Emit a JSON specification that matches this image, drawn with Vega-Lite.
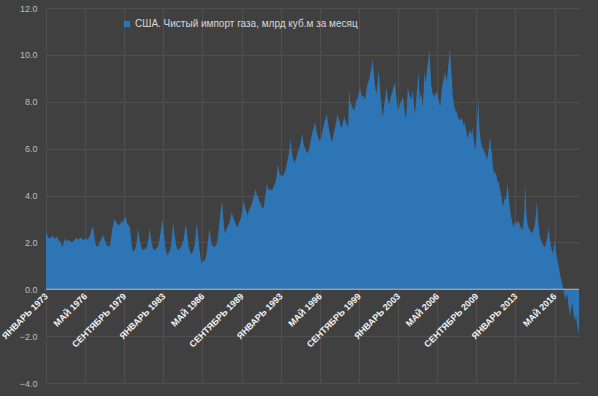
{
"$schema": "https://vega.github.io/schema/vega-lite/v6.json",
"width": 533, "height": 375,
"autosize": {"type": "none"},
"padding": {"left": 46, "top": 8, "right": 19, "bottom": 13},
"background": "#404040",
"config": {"view": {"stroke": null}, "font": "Liberation Sans"},
"data": {"values": [
{"d":"1973-01","v":2.44},{"d":"1973-02","v":2.35},{"d":"1973-03","v":2.25},{"d":"1973-04","v":2.2},{"d":"1973-05","v":2.16},{"d":"1973-06","v":2.2},{"d":"1973-07","v":2.25},{"d":"1973-08","v":2.3},{"d":"1973-09","v":2.2},{"d":"1973-10","v":2.15},{"d":"1973-11","v":2.2},{"d":"1973-12","v":2.25},
{"d":"1974-01","v":2.16},{"d":"1974-02","v":2.1},{"d":"1974-03","v":2.05},{"d":"1974-04","v":2.0},{"d":"1974-05","v":1.9},{"d":"1974-06","v":1.8},{"d":"1974-07","v":1.95},{"d":"1974-08","v":2.1},{"d":"1974-09","v":2.16},{"d":"1974-10","v":2.1},{"d":"1974-11","v":2.05},{"d":"1974-12","v":2.1},
{"d":"1975-01","v":2.1},{"d":"1975-02","v":2.05},{"d":"1975-03","v":2.0},{"d":"1975-04","v":2.02},{"d":"1975-05","v":2.05},{"d":"1975-06","v":2.1},{"d":"1975-07","v":2.15},{"d":"1975-08","v":2.2},{"d":"1975-09","v":2.15},{"d":"1975-10","v":2.1},{"d":"1975-11","v":2.15},{"d":"1975-12","v":2.2},
{"d":"1976-01","v":2.2},{"d":"1976-02","v":2.15},{"d":"1976-03","v":2.1},{"d":"1976-04","v":2.1},{"d":"1976-05","v":2.15},{"d":"1976-06","v":2.2},{"d":"1976-07","v":2.1},{"d":"1976-08","v":2.15},{"d":"1976-09","v":2.2},{"d":"1976-10","v":2.3},{"d":"1976-11","v":2.45},{"d":"1976-12","v":2.6},
{"d":"1977-01","v":2.69},{"d":"1977-02","v":2.4},{"d":"1977-03","v":2.1},{"d":"1977-04","v":1.9},{"d":"1977-05","v":1.85},{"d":"1977-06","v":1.8},{"d":"1977-07","v":1.9},{"d":"1977-08","v":2.0},{"d":"1977-09","v":2.1},{"d":"1977-10","v":2.2},{"d":"1977-11","v":2.3},{"d":"1977-12","v":2.25},
{"d":"1978-01","v":2.1},{"d":"1978-02","v":2.0},{"d":"1978-03","v":1.9},{"d":"1978-04","v":1.85},{"d":"1978-05","v":1.85},{"d":"1978-06","v":1.8},{"d":"1978-07","v":2.0},{"d":"1978-08","v":2.3},{"d":"1978-09","v":2.6},{"d":"1978-10","v":2.8},{"d":"1978-11","v":3.02},{"d":"1978-12","v":2.9},
{"d":"1979-01","v":2.85},{"d":"1979-02","v":2.8},{"d":"1979-03","v":2.75},{"d":"1979-04","v":2.73},{"d":"1979-05","v":2.8},{"d":"1979-06","v":2.9},{"d":"1979-07","v":2.85},{"d":"1979-08","v":2.9},{"d":"1979-09","v":3.0},{"d":"1979-10","v":3.11},{"d":"1979-11","v":3.0},{"d":"1979-12","v":2.8},
{"d":"1980-01","v":2.75},{"d":"1980-02","v":2.7},{"d":"1980-03","v":2.6},{"d":"1980-04","v":2.2},{"d":"1980-05","v":1.8},{"d":"1980-06","v":1.6},{"d":"1980-07","v":1.65},{"d":"1980-08","v":1.7},{"d":"1980-09","v":1.85},{"d":"1980-10","v":2.1},{"d":"1980-11","v":2.6},{"d":"1980-12","v":2.3},
{"d":"1981-01","v":2.1},{"d":"1981-02","v":1.9},{"d":"1981-03","v":1.75},{"d":"1981-04","v":1.66},{"d":"1981-05","v":1.7},{"d":"1981-06","v":1.75},{"d":"1981-07","v":1.7},{"d":"1981-08","v":1.8},{"d":"1981-09","v":1.95},{"d":"1981-10","v":2.2},{"d":"1981-11","v":2.63},{"d":"1981-12","v":2.3},
{"d":"1982-01","v":2.0},{"d":"1982-02","v":1.8},{"d":"1982-03","v":1.7},{"d":"1982-04","v":1.66},{"d":"1982-05","v":1.7},{"d":"1982-06","v":1.75},{"d":"1982-07","v":1.8},{"d":"1982-08","v":1.9},{"d":"1982-09","v":2.1},{"d":"1982-10","v":2.4},{"d":"1982-11","v":2.7},{"d":"1982-12","v":3.02},
{"d":"1983-01","v":2.6},{"d":"1983-02","v":2.2},{"d":"1983-03","v":1.8},{"d":"1983-04","v":1.6},{"d":"1983-05","v":1.45},{"d":"1983-06","v":1.5},{"d":"1983-07","v":1.6},{"d":"1983-08","v":1.7},{"d":"1983-09","v":1.9},{"d":"1983-10","v":2.3},{"d":"1983-11","v":2.88},{"d":"1983-12","v":2.5},
{"d":"1984-01","v":2.2},{"d":"1984-02","v":1.9},{"d":"1984-03","v":1.75},{"d":"1984-04","v":1.66},{"d":"1984-05","v":1.7},{"d":"1984-06","v":1.75},{"d":"1984-07","v":1.8},{"d":"1984-08","v":1.9},{"d":"1984-09","v":2.0},{"d":"1984-10","v":2.2},{"d":"1984-11","v":2.5},{"d":"1984-12","v":2.77},
{"d":"1985-01","v":2.5},{"d":"1985-02","v":2.1},{"d":"1985-03","v":1.8},{"d":"1985-04","v":1.65},{"d":"1985-05","v":1.55},{"d":"1985-06","v":1.52},{"d":"1985-07","v":1.6},{"d":"1985-08","v":1.7},{"d":"1985-09","v":1.9},{"d":"1985-10","v":2.3},{"d":"1985-11","v":2.8},{"d":"1985-12","v":2.5},
{"d":"1986-01","v":2.1},{"d":"1986-02","v":1.7},{"d":"1986-03","v":1.4},{"d":"1986-04","v":1.1},{"d":"1986-05","v":1.15},{"d":"1986-06","v":1.25},{"d":"1986-07","v":1.2},{"d":"1986-08","v":1.3},{"d":"1986-09","v":1.5},{"d":"1986-10","v":1.8},{"d":"1986-11","v":2.2},{"d":"1986-12","v":2.6},
{"d":"1987-01","v":2.3},{"d":"1987-02","v":2.0},{"d":"1987-03","v":1.9},{"d":"1987-04","v":1.85},{"d":"1987-05","v":1.8},{"d":"1987-06","v":1.85},{"d":"1987-07","v":1.9},{"d":"1987-08","v":2.0},{"d":"1987-09","v":2.3},{"d":"1987-10","v":2.7},{"d":"1987-11","v":3.1},{"d":"1987-12","v":3.5},
{"d":"1988-01","v":3.8},{"d":"1988-02","v":3.2},{"d":"1988-03","v":2.7},{"d":"1988-04","v":2.4},{"d":"1988-05","v":2.5},{"d":"1988-06","v":2.6},{"d":"1988-07","v":2.7},{"d":"1988-08","v":2.8},{"d":"1988-09","v":2.9},{"d":"1988-10","v":3.1},{"d":"1988-11","v":3.3},{"d":"1988-12","v":3.1},
{"d":"1989-01","v":3.0},{"d":"1989-02","v":2.9},{"d":"1989-03","v":2.8},{"d":"1989-04","v":2.7},{"d":"1989-05","v":2.66},{"d":"1989-06","v":2.8},{"d":"1989-07","v":2.9},{"d":"1989-08","v":3.0},{"d":"1989-09","v":3.2},{"d":"1989-10","v":3.4},{"d":"1989-11","v":3.8},{"d":"1989-12","v":3.6},
{"d":"1990-01","v":3.4},{"d":"1990-02","v":3.3},{"d":"1990-03","v":3.16},{"d":"1990-04","v":3.3},{"d":"1990-05","v":3.4},{"d":"1990-06","v":3.5},{"d":"1990-07","v":3.6},{"d":"1990-08","v":3.7},{"d":"1990-09","v":3.9},{"d":"1990-10","v":4.0},{"d":"1990-11","v":4.3},{"d":"1990-12","v":4.1},
{"d":"1991-01","v":4.0},{"d":"1991-02","v":3.9},{"d":"1991-03","v":3.8},{"d":"1991-04","v":3.7},{"d":"1991-05","v":3.6},{"d":"1991-06","v":3.5},{"d":"1991-07","v":3.45},{"d":"1991-08","v":3.6},{"d":"1991-09","v":3.9},{"d":"1991-10","v":4.2},{"d":"1991-11","v":4.52},{"d":"1991-12","v":4.3},
{"d":"1992-01","v":4.2},{"d":"1992-02","v":4.3},{"d":"1992-03","v":4.25},{"d":"1992-04","v":4.2},{"d":"1992-05","v":4.3},{"d":"1992-06","v":4.4},{"d":"1992-07","v":4.5},{"d":"1992-08","v":4.6},{"d":"1992-09","v":4.9},{"d":"1992-10","v":5.37},{"d":"1992-11","v":5.1},{"d":"1992-12","v":4.9},
{"d":"1993-01","v":4.85},{"d":"1993-02","v":4.9},{"d":"1993-03","v":4.8},{"d":"1993-04","v":4.9},{"d":"1993-05","v":5.0},{"d":"1993-06","v":5.1},{"d":"1993-07","v":5.3},{"d":"1993-08","v":5.5},{"d":"1993-09","v":5.7},{"d":"1993-10","v":6.0},{"d":"1993-11","v":6.44},{"d":"1993-12","v":6.0},
{"d":"1994-01","v":5.7},{"d":"1994-02","v":5.5},{"d":"1994-03","v":5.4},{"d":"1994-04","v":5.5},{"d":"1994-05","v":5.6},{"d":"1994-06","v":5.8},{"d":"1994-07","v":5.9},{"d":"1994-08","v":6.0},{"d":"1994-09","v":6.2},{"d":"1994-10","v":6.4},{"d":"1994-11","v":6.65},{"d":"1994-12","v":6.3},
{"d":"1995-01","v":6.1},{"d":"1995-02","v":6.0},{"d":"1995-03","v":5.9},{"d":"1995-04","v":5.85},{"d":"1995-05","v":5.8},{"d":"1995-06","v":6.0},{"d":"1995-07","v":6.2},{"d":"1995-08","v":6.4},{"d":"1995-09","v":6.6},{"d":"1995-10","v":6.8},{"d":"1995-11","v":6.9},{"d":"1995-12","v":7.14},
{"d":"1996-01","v":6.9},{"d":"1996-02","v":6.7},{"d":"1996-03","v":6.5},{"d":"1996-04","v":6.4},{"d":"1996-05","v":6.3},{"d":"1996-06","v":6.4},{"d":"1996-07","v":6.6},{"d":"1996-08","v":6.8},{"d":"1996-09","v":7.0},{"d":"1996-10","v":7.2},{"d":"1996-11","v":7.3},{"d":"1996-12","v":7.5},
{"d":"1997-01","v":7.2},{"d":"1997-02","v":6.9},{"d":"1997-03","v":6.7},{"d":"1997-04","v":6.5},{"d":"1997-05","v":6.3},{"d":"1997-06","v":6.4},{"d":"1997-07","v":6.6},{"d":"1997-08","v":6.8},{"d":"1997-09","v":7.0},{"d":"1997-10","v":7.2},{"d":"1997-11","v":7.5},{"d":"1997-12","v":7.3},
{"d":"1998-01","v":7.2},{"d":"1998-02","v":7.0},{"d":"1998-03","v":6.9},{"d":"1998-04","v":7.0},{"d":"1998-05","v":7.2},{"d":"1998-06","v":7.35},{"d":"1998-07","v":7.2},{"d":"1998-08","v":7.1},{"d":"1998-09","v":7.0},{"d":"1998-10","v":6.9},{"d":"1998-11","v":8.56},{"d":"1998-12","v":8.0},
{"d":"1999-01","v":7.9},{"d":"1999-02","v":7.8},{"d":"1999-03","v":7.7},{"d":"1999-04","v":7.63},{"d":"1999-05","v":7.8},{"d":"1999-06","v":8.0},{"d":"1999-07","v":8.1},{"d":"1999-08","v":8.2},{"d":"1999-09","v":8.4},{"d":"1999-10","v":8.63},{"d":"1999-11","v":8.4},{"d":"1999-12","v":8.2},
{"d":"2000-01","v":8.3},{"d":"2000-02","v":8.2},{"d":"2000-03","v":8.06},{"d":"2000-04","v":8.3},{"d":"2000-05","v":8.6},{"d":"2000-06","v":8.8},{"d":"2000-07","v":8.9},{"d":"2000-08","v":9.1},{"d":"2000-09","v":9.3},{"d":"2000-10","v":9.5},{"d":"2000-11","v":9.84},{"d":"2000-12","v":9.3},
{"d":"2001-01","v":8.8},{"d":"2001-02","v":8.5},{"d":"2001-03","v":8.35},{"d":"2001-04","v":8.8},{"d":"2001-05","v":9.34},{"d":"2001-06","v":8.9},{"d":"2001-07","v":8.3},{"d":"2001-08","v":7.9},{"d":"2001-09","v":7.35},{"d":"2001-10","v":7.6},{"d":"2001-11","v":7.9},{"d":"2001-12","v":8.2},
{"d":"2002-01","v":8.63},{"d":"2002-02","v":8.3},{"d":"2002-03","v":8.0},{"d":"2002-04","v":7.9},{"d":"2002-05","v":8.1},{"d":"2002-06","v":8.3},{"d":"2002-07","v":8.4},{"d":"2002-08","v":8.6},{"d":"2002-09","v":8.7},{"d":"2002-10","v":8.84},{"d":"2002-11","v":8.3},{"d":"2002-12","v":7.9},
{"d":"2003-01","v":7.63},{"d":"2003-02","v":7.8},{"d":"2003-03","v":7.9},{"d":"2003-04","v":8.0},{"d":"2003-05","v":8.1},{"d":"2003-06","v":8.2},{"d":"2003-07","v":7.9},{"d":"2003-08","v":7.5},{"d":"2003-09","v":7.25},{"d":"2003-10","v":7.8},{"d":"2003-11","v":8.63},{"d":"2003-12","v":8.4},
{"d":"2004-01","v":8.3},{"d":"2004-02","v":8.1},{"d":"2004-03","v":8.2},{"d":"2004-04","v":8.5},{"d":"2004-05","v":8.0},{"d":"2004-06","v":7.5},{"d":"2004-07","v":7.8},{"d":"2004-08","v":8.3},{"d":"2004-09","v":8.8},{"d":"2004-10","v":9.27},{"d":"2004-11","v":8.06},{"d":"2004-12","v":8.4},
{"d":"2005-01","v":8.2},{"d":"2005-02","v":7.78},{"d":"2005-03","v":8.3},{"d":"2005-04","v":9.34},{"d":"2005-05","v":8.8},{"d":"2005-06","v":9.1},{"d":"2005-07","v":9.5},{"d":"2005-08","v":9.8},{"d":"2005-09","v":10.27},{"d":"2005-10","v":9.3},{"d":"2005-11","v":8.7},{"d":"2005-12","v":8.4},
{"d":"2006-01","v":8.3},{"d":"2006-02","v":8.15},{"d":"2006-03","v":8.4},{"d":"2006-04","v":8.3},{"d":"2006-05","v":8.5},{"d":"2006-06","v":8.2},{"d":"2006-07","v":8.0},{"d":"2006-08","v":7.78},{"d":"2006-09","v":8.2},{"d":"2006-10","v":8.6},{"d":"2006-11","v":8.9},{"d":"2006-12","v":9.0},
{"d":"2007-01","v":9.27},{"d":"2007-02","v":9.0},{"d":"2007-03","v":8.9},{"d":"2007-04","v":9.4},{"d":"2007-05","v":9.8},{"d":"2007-06","v":10.28},{"d":"2007-07","v":9.6},{"d":"2007-08","v":9.0},{"d":"2007-09","v":8.2},{"d":"2007-10","v":7.9},{"d":"2007-11","v":7.7},{"d":"2007-12","v":7.6},
{"d":"2008-01","v":7.6},{"d":"2008-02","v":7.35},{"d":"2008-03","v":7.3},{"d":"2008-04","v":7.2},{"d":"2008-05","v":7.25},{"d":"2008-06","v":7.3},{"d":"2008-07","v":7.2},{"d":"2008-08","v":7.0},{"d":"2008-09","v":7.1},{"d":"2008-10","v":6.9},{"d":"2008-11","v":6.7},{"d":"2008-12","v":6.44},
{"d":"2009-01","v":6.6},{"d":"2009-02","v":6.8},{"d":"2009-03","v":6.7},{"d":"2009-04","v":6.6},{"d":"2009-05","v":6.9},{"d":"2009-06","v":6.5},{"d":"2009-07","v":6.2},{"d":"2009-08","v":5.93},{"d":"2009-09","v":6.5},{"d":"2009-10","v":7.2},{"d":"2009-11","v":8.2},{"d":"2009-12","v":7.0},
{"d":"2010-01","v":6.5},{"d":"2010-02","v":6.2},{"d":"2010-03","v":6.07},{"d":"2010-04","v":6.0},{"d":"2010-05","v":5.9},{"d":"2010-06","v":5.8},{"d":"2010-07","v":5.7},{"d":"2010-08","v":5.5},{"d":"2010-09","v":5.8},{"d":"2010-10","v":6.1},{"d":"2010-11","v":6.57},{"d":"2010-12","v":6.0},
{"d":"2011-01","v":5.8},{"d":"2011-02","v":5.2},{"d":"2011-03","v":4.95},{"d":"2011-04","v":5.0},{"d":"2011-05","v":4.95},{"d":"2011-06","v":4.8},{"d":"2011-07","v":4.52},{"d":"2011-08","v":4.6},{"d":"2011-09","v":4.3},{"d":"2011-10","v":4.1},{"d":"2011-11","v":3.9},{"d":"2011-12","v":3.5},
{"d":"2012-01","v":3.7},{"d":"2012-02","v":3.9},{"d":"2012-03","v":3.8},{"d":"2012-04","v":4.1},{"d":"2012-05","v":4.52},{"d":"2012-06","v":4.0},{"d":"2012-07","v":3.6},{"d":"2012-08","v":3.24},{"d":"2012-09","v":3.0},{"d":"2012-10","v":2.8},{"d":"2012-11","v":2.66},{"d":"2012-12","v":2.8},
{"d":"2013-01","v":2.9},{"d":"2013-02","v":2.8},{"d":"2013-03","v":2.85},{"d":"2013-04","v":2.94},{"d":"2013-05","v":2.8},{"d":"2013-06","v":2.7},{"d":"2013-07","v":2.6},{"d":"2013-08","v":2.52},{"d":"2013-09","v":2.8},{"d":"2013-10","v":3.3},{"d":"2013-11","v":4.52},{"d":"2013-12","v":3.4},
{"d":"2014-01","v":2.9},{"d":"2014-02","v":2.66},{"d":"2014-03","v":2.6},{"d":"2014-04","v":2.5},{"d":"2014-05","v":2.45},{"d":"2014-06","v":2.38},{"d":"2014-07","v":2.5},{"d":"2014-08","v":2.6},{"d":"2014-09","v":2.8},{"d":"2014-10","v":3.2},{"d":"2014-11","v":3.8},{"d":"2014-12","v":3.0},
{"d":"2015-01","v":2.6},{"d":"2015-02","v":2.23},{"d":"2015-03","v":2.1},{"d":"2015-04","v":2.0},{"d":"2015-05","v":1.9},{"d":"2015-06","v":1.85},{"d":"2015-07","v":1.8},{"d":"2015-08","v":1.9},{"d":"2015-09","v":2.1},{"d":"2015-10","v":2.3},{"d":"2015-11","v":2.66},{"d":"2015-12","v":2.2},
{"d":"2016-01","v":1.9},{"d":"2016-02","v":1.7},{"d":"2016-03","v":1.53},{"d":"2016-04","v":1.7},{"d":"2016-05","v":2.09},{"d":"2016-06","v":1.7},{"d":"2016-07","v":1.5},{"d":"2016-08","v":1.24},{"d":"2016-09","v":1.0},{"d":"2016-10","v":0.8},{"d":"2016-11","v":0.53},{"d":"2016-12","v":0.4},
{"d":"2017-01","v":0.2},{"d":"2017-02","v":0.0},{"d":"2017-03","v":-0.2},{"d":"2017-04","v":-0.45},{"d":"2017-05","v":-0.3},{"d":"2017-06","v":-0.2},{"d":"2017-07","v":-0.6},{"d":"2017-08","v":-0.9},{"d":"2017-09","v":-1.15},{"d":"2017-10","v":-0.8},{"d":"2017-11","v":-0.57},{"d":"2017-12","v":-0.9},
{"d":"2018-01","v":-1.2},{"d":"2018-02","v":-1.35},{"d":"2018-03","v":-1.1},{"d":"2018-04","v":-1.5},{"d":"2018-05","v":-1.7},{"d":"2018-06","v":-1.96}
]},
"layer": [
{"mark": {"type": "area", "color": "#2e75b6", "interpolate": "linear"},
 "encoding": {
  "x": {"field": "d", "type": "temporal",
   "scale": {"type": "utc", "domain": [{"year": 1973, "month": 1, "date": 1, "utc": true}, {"year": 2018, "month": 6, "date": 1, "utc": true}]},
   "axis": {"title": null,
    "values": [{"year":1973,"month":1,"date":1,"utc":true},{"year":1976,"month":5,"date":1,"utc":true},{"year":1979,"month":9,"date":1,"utc":true},{"year":1983,"month":1,"date":1,"utc":true},{"year":1986,"month":5,"date":1,"utc":true},{"year":1989,"month":9,"date":1,"utc":true},{"year":1993,"month":1,"date":1,"utc":true},{"year":1996,"month":5,"date":1,"utc":true},{"year":1999,"month":9,"date":1,"utc":true},{"year":2003,"month":1,"date":1,"utc":true},{"year":2006,"month":5,"date":1,"utc":true},{"year":2009,"month":9,"date":1,"utc":true},{"year":2013,"month":1,"date":1,"utc":true},{"year":2016,"month":5,"date":1,"utc":true}],
    "labelExpr": "(utcmonth(datum.value)==0?'ЯНВАРЬ':utcmonth(datum.value)==4?'МАЙ':'СЕНТЯБРЬ')+' '+utcyear(datum.value)",
    "labelAngle": -45, "labelAlign": "right", "labelBaseline": "middle",
    "labelColor": "#f2f2f2", "labelFontSize": 9, "labelFontWeight": "bold", "labelPadding": 5,
    "offset": -93.75, "domain": false, "ticks": false, "grid": true, "gridColor": "#4f4f4f",
    "labelOverlap": false, "labelBound": false, "labelFlush": false, "labelLimit": 0}},
  "y": {"field": "v", "type": "quantitative",
   "scale": {"domain": [-4, 12], "nice": false},
   "axis": {"title": null, "values": [-4, -2, 0, 2, 4, 6, 8, 10, 12], "format": ".1f",
    "domain": false, "ticks": false, "grid": true, "gridColor": "#4f4f4f",
    "labelColor": "#bfbfbf", "labelFontSize": 9, "labelPadding": 9}},
  "color": {"datum": "США. Чистый импорт газа, млрд куб.м за месяц", "type": "nominal",
   "scale": {"range": ["#2e75b6"]},
   "legend": {"title": null, "orient": "none", "legendX": 76, "legendY": 11,
    "symbolType": "square", "symbolSize": 40, "symbolStrokeWidth": 0,
    "labelColor": "#d9d9d9", "labelFontSize": 10, "labelOffset": 3, "labelLimit": 0}}
 }},
{"data": {"values": [{"z": 0}]},
 "mark": {"type": "rule", "color": "#cdb89c", "strokeWidth": 1.2},
 "encoding": {"y": {"field": "z", "type": "quantitative"}}}
]
}
